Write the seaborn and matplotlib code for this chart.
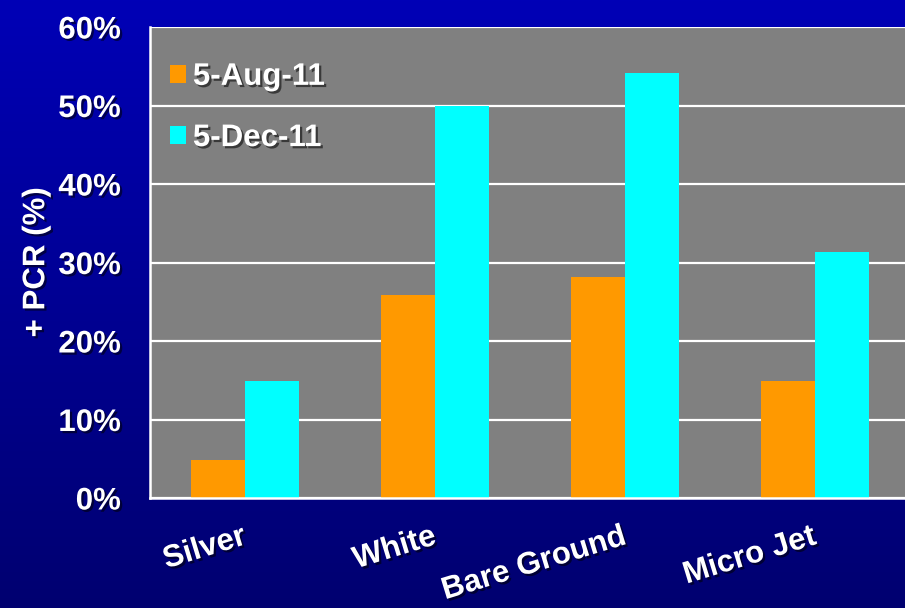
import numpy as np
import pandas as pd
import matplotlib
matplotlib.use("Agg")
import matplotlib.pyplot as plt
import matplotlib.patheffects as pe
from matplotlib.patches import Patch
import matplotlib.transforms as mtransforms
import seaborn as sns

categories = ["Silver", "White", "Bare Ground", "Micro Jet"]
series_names = ["5-Aug-11", "5-Dec-11"]
aug_values = [4.8, 25.8, 28.1, 14.9]
dec_values = [14.9, 49.9, 54.2, 31.4]
y_ticks = [0, 10, 20, 30, 40, 50, 60]
y_tick_labels = ["0%", "10%", "20%", "30%", "40%", "50%", "60%"]
y_label = "+ PCR (%)"
colors = ["#FF9900", "#00FFFF"]

df = pd.DataFrame({
    "category": categories * 2,
    "series": [series_names[0]] * 4 + [series_names[1]] * 4,
    "value": aug_values + dec_values,
})

sns.set_style("white")
plt.rcParams["font.family"] = ["Liberation Sans", "DejaVu Sans"]
plt.rcParams["font.weight"] = "bold"

FS = 22.5
W, H = 905, 608
fig = plt.figure(figsize=(W / 100, H / 100), dpi=100)

# gradient background
bg = fig.add_axes([0, 0, 1, 1], zorder=-10)
grad = np.linspace(0, 1, 256)[:, None]
top = np.array([0, 0, 182]) / 255
bot = np.array([0, 0, 112]) / 255
img = (top[None, None, :] * (1 - grad[:, :, None]) + bot[None, None, :] * grad[:, :, None])
bg.imshow(img, aspect="auto", extent=[0, 1, 0, 1])
bg.set_axis_off()

ax = fig.add_axes([150 / W, (H - 498) / H, 760 / W, 471 / H])
ax.set_facecolor("#808080")

sns.barplot(data=df, x="category", y="value", hue="series", order=categories,
            hue_order=series_names, palette=colors, width=0.57, saturation=1,
            ax=ax, zorder=3, legend=False, edgecolor="none", linewidth=0)

shadow = [pe.SimplePatchShadow(offset=(1.6, -1.6), shadow_rgbFace="black", alpha=0.55), pe.Normal()]

ax.set_ylim(0, 60)
ax.set_xlim(-0.5, 3.5)
ax.set_yticks(y_ticks)
ax.set_yticklabels(y_tick_labels)
ax.yaxis.grid(True, color="white", linewidth=1.6, zorder=0)
ax.set_axisbelow(True)

# boundary ticks (major, no labels) and category labels (minor positions)
ax.set_xticks([-0.5, 0.5, 1.5, 2.5])
ax.set_xticklabels([])
ax.set_xticks([0, 1, 2, 3], minor=True)
ax.set_xticklabels(categories, minor=True, rotation=17, ha="right",
                   rotation_mode="anchor", va="top")
ax.tick_params(axis="x", which="minor", length=0, pad=17, labelsize=FS, labelcolor="white")
ax.tick_params(axis="x", which="major", length=8, width=1.5, color="white", direction="out")
ax.tick_params(axis="y", length=8, width=1.5, color="white", direction="out",
               labelsize=FS, labelcolor="white", pad=13)

offset = mtransforms.ScaledTranslation(-4 / 100, 0, fig.dpi_scale_trans)
for lbl in ax.get_xticklabels(minor=True):
    lbl.set_transform(lbl.get_transform() + offset)

for lbl in ax.get_yticklabels() + ax.get_xticklabels(minor=True):
    lbl.set_fontweight("bold")
    lbl.set_path_effects(shadow)

ax.set_xlabel("")
ax.set_ylabel(y_label, fontsize=FS, fontweight="bold", color="white", labelpad=5)
ax.yaxis.label.set_path_effects(shadow)

for side in ["top", "right"]:
    ax.spines[side].set_visible(False)
for side in ["left", "bottom"]:
    ax.spines[side].set_color("white")
    ax.spines[side].set_linewidth(1.8)
    ax.spines[side].set_zorder(5)

handles = [Patch(facecolor=c, edgecolor="none") for c in colors]
leg = ax.legend(handles, series_names, loc="upper left", bbox_to_anchor=(0.026, 0.926),
                frameon=False, handlelength=0.52, handleheight=0.52,
                handletextpad=0.22, labelspacing=1.0, borderpad=0, borderaxespad=0,
                prop={"weight": "bold", "size": FS})
for t in leg.get_texts():
    t.set_color("white")
    t.set_path_effects(shadow)

fig.savefig("out.png", dpi=100)
